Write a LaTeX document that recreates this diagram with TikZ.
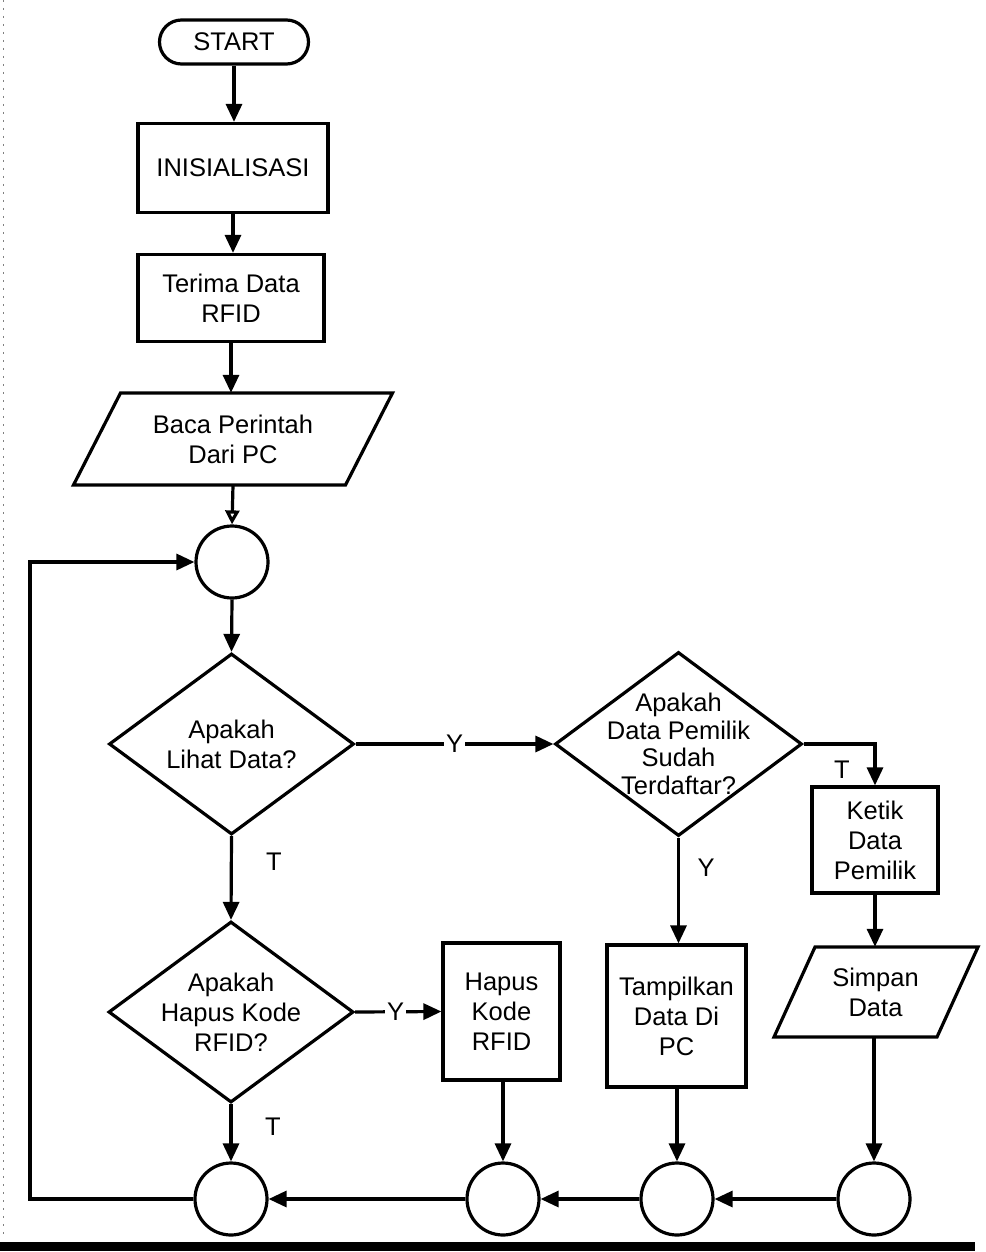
\documentclass[tikz,border=0pt]{standalone}
\usepackage{fontspec}
\setmainfont{Liberation Sans}
\usetikzlibrary{shapes.geometric,arrows.meta}
\begin{document}
\begin{tikzpicture}[x=1pt,y=-1pt,
  font=\fontsize{25.5}{30}\selectfont,
  every node/.style={inner sep=0pt},
  ln/.style={line width=3.2pt},
  arr/.style={ln,-{Triangle[length=18pt,width=16pt]}},
  oarr/.style={ln,-{Triangle[open,length=14pt,width=14pt]}},
  box/.style={draw,ln,rectangle,align=center},
  cir/.style={draw,ln,circle,minimum size=72pt},
  dec/.style={draw,ln,diamond,minimum width=245pt,minimum height=181pt},
  term/.style={draw,ln,rectangle,rounded corners=22pt,minimum width=149pt,minimum height=44pt},
  io/.style={align=center},
  lab/.style={fill=white,inner sep=2pt}]
\useasboundingbox (0,0) rectangle (985,1252);

% scan edge and bottom bar
\draw[gray,line width=1pt,dash pattern=on 2pt off 6pt] (3,0) -- (3,1235);
\draw[line width=9pt] (0,1246) -- (975,1246);

% nodes
\node[term] (start) at (234,42) {START};
\node[box,minimum width=190pt,minimum height=89pt] (init) at (233,168) {INISIALISASI};
\node[box,minimum width=186pt,minimum height=87pt] (terima) at (231,298) {Terima Data\\RFID};
\node[io,minimum width=272pt,minimum height=92pt] (baca) at (233,439) {Baca Perintah\\Dari PC};
\draw[ln] (baca.center) ++(-112.5,-46) -- ++(272,0) -- ++(-47,92) -- ++(-272,0) -- cycle;
\node[cir] (c0) at (232,562) {};
\node[dec,label={[align=center]center:Apakah\\Lihat Data?}] (d1) at (231.5,744) {};
\node[dec,minimum width=247pt,minimum height=184pt,
  label={[align=center,font=\fontsize{25.5}{27.5}\selectfont]center:Apakah\\Data Pemilik\\Sudah\\Terdaftar?}] (d2) at (678.5,744) {};
\node[box,minimum width=126pt,minimum height=106pt] (ketik) at (875,840) {Ketik\\Data\\Pemilik};
\node[io,minimum width=163pt,minimum height=90pt] (simpan) at (875.5,992) {Simpan\\Data};
\draw[ln] (simpan.center) ++(-60.5,-45) -- ++(163,0) -- ++(-41,90) -- ++(-163,0) -- cycle;
\node[dec,label={[align=center]center:Apakah\\Hapus Kode\\RFID?}] (d3) at (231,1012) {};
\node[box,minimum width=117pt,minimum height=137pt] (hapus) at (501.5,1011.5) {Hapus\\Kode\\RFID};
\node[box,minimum width=139pt,minimum height=142pt] (tamp) at (676.5,1016) {Tampilkan\\Data Di\\PC};
\node[cir] (ca) at (231,1199) {};
\node[cir] (cb) at (503,1199) {};
\node[cir] (cc) at (677,1199) {};
\node[cir] (cd) at (874,1199) {};
\coordinate (lc) at (30,1199);

% connectors
\draw[arr] (start.south) -- (start.south |- init.north);
\draw[arr] (init.south) -- (init.south |- terima.north);
\draw[arr] (terima.south) -- (terima.south |- baca.north);
\draw[oarr] (baca.south) -- (c0.north);
\draw[arr] (c0.south) -- (d1.north);
\draw[arr] (d1.east) -- node[lab] (ly1) {Y} (d2.west);
\draw[arr] (d1.south) -- (d3.north);
\draw[arr] (d2.east) -| (ketik.north);
\draw[arr] (d2.south) -- (d2.south |- tamp.north);
\draw[arr] (ketik.south) -- (ketik.south |- simpan.north);
\draw[arr] (d3.east) -- node[lab,pos=0.47] (ly3) {Y} (hapus.west);
\draw[arr] (d3.south) -- (ca.north);
\draw[arr] (hapus.south -| cb.north) -- (cb.north);
\draw[arr] (tamp.south -| cc.north) -- (cc.north);
\draw[arr] (simpan.south -| cd.north) -- (cd.north);
\draw[arr] (cd.west) -- (cc.east);
\draw[arr] (cc.west) -- (cb.east);
\draw[arr] (cb.west) -- (ca.east);
\draw[arr] (ca.west) -- (lc) |- (c0.west);

% branch labels
\node (lt1) at (274,862) {T};
\node (lt2) at (842,770) {T};
\node (ly2) at (706,868) {Y};
\node (lt3) at (273,1127) {T};
\end{tikzpicture}
\end{document}
